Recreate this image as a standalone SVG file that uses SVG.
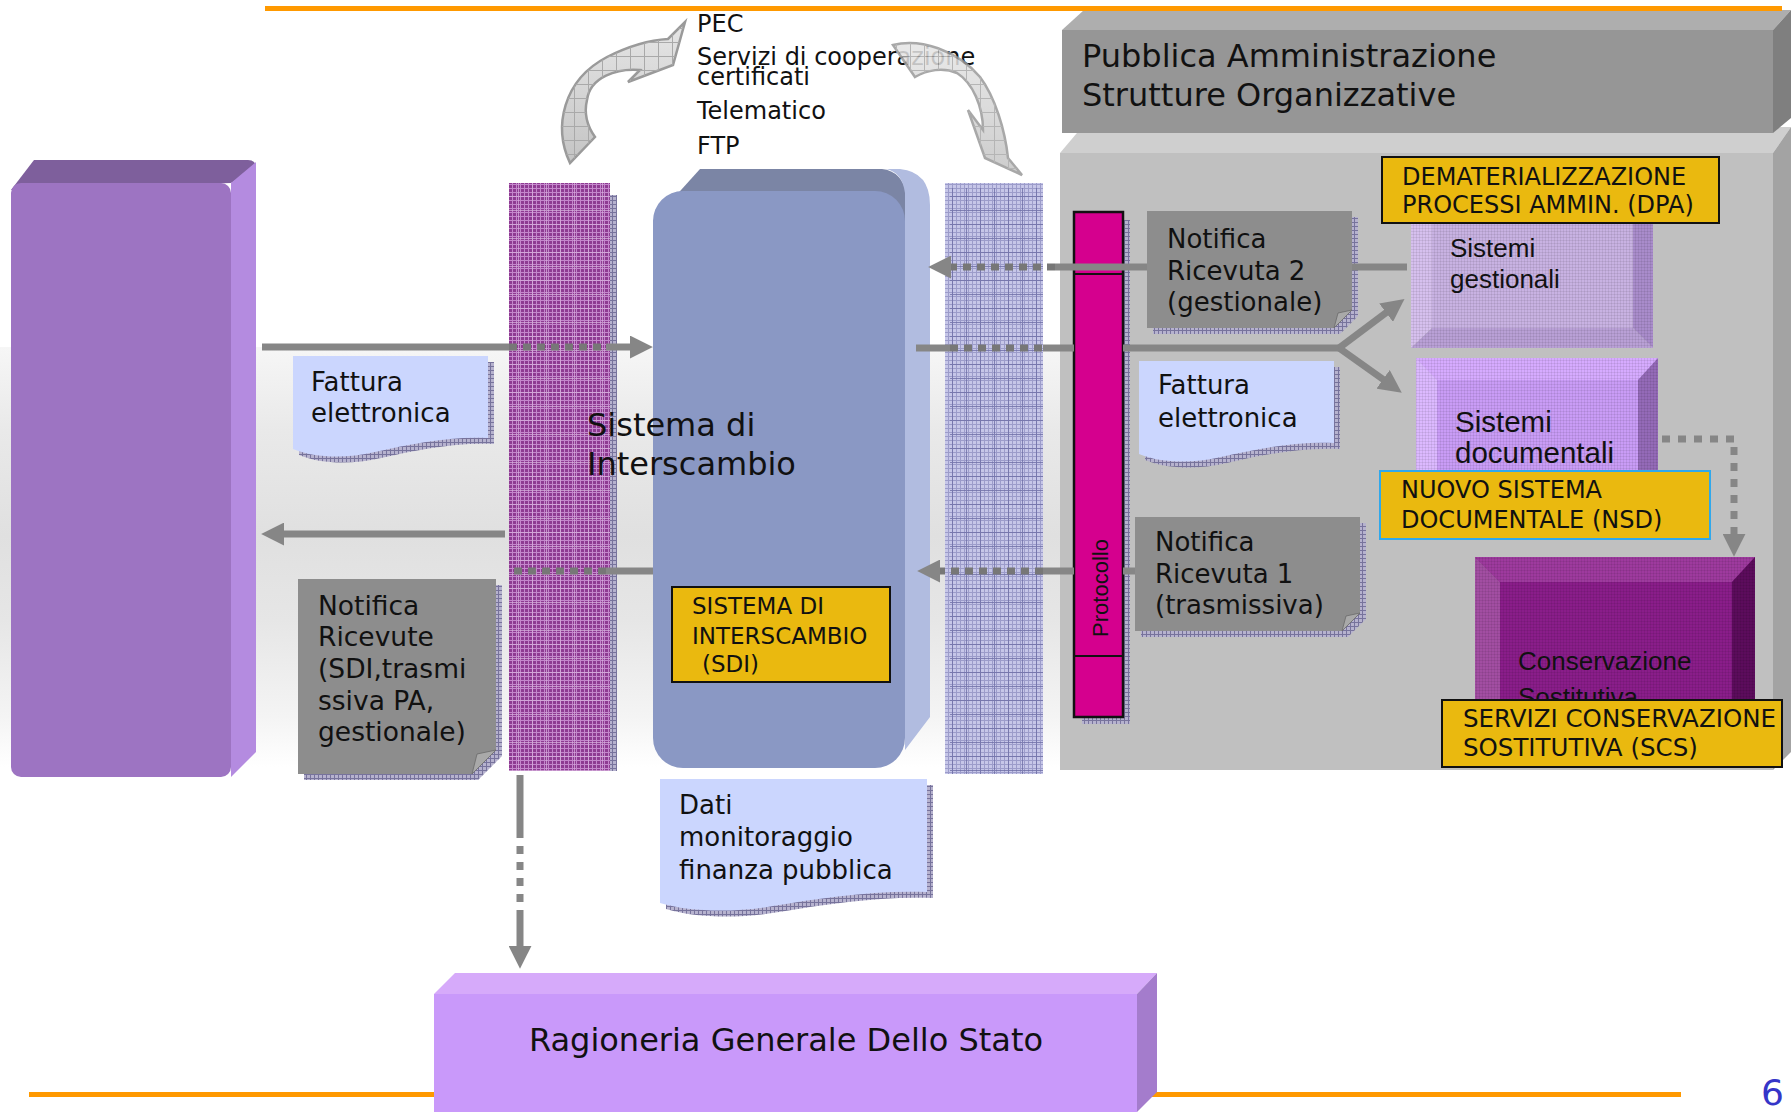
<svg xmlns="http://www.w3.org/2000/svg" width="1791" height="1112" viewBox="0 0 1791 1112">
<defs>
<style>
.t{font-family:"DejaVu Sans",Verdana,sans-serif;fill:#111}
.a{font-family:"Liberation Sans",Arial,sans-serif;fill:#111}
.ln{stroke:#868686;stroke-width:7;fill:none}
.dl{stroke:#777;stroke-width:7;fill:none;stroke-dasharray:8 6}
.yl{fill:#eab90f;stroke:#111;stroke-width:2}
.note{fill:#8d8d8d}
.fold{fill:#a9a9a9;stroke:#6a6a6a;stroke-width:.8}
.doc{fill:#cbd6fe}
.shd{fill:url(#hShadow)}
.orange{fill:#ff9900}
.carrow{fill:url(#arrowGrad);stroke:#9a9a9a;stroke-width:2.5}
</style>
<pattern id="hPurple" width="4" height="4" patternUnits="userSpaceOnUse"><rect width="4" height="4" fill="#8e3b92"/><path d="M0 .5H4M.5 0V4" stroke="#c487cc" stroke-width="1"/></pattern>
<pattern id="gPurple" width="14" height="14" patternUnits="userSpaceOnUse"><path d="M0 .5H14M.5 0V14" stroke="#d9b3de" stroke-width="1" opacity=".7"/></pattern>
<pattern id="hBlue" width="4" height="4" patternUnits="userSpaceOnUse"><rect width="4" height="4" fill="#c6c6e8"/><path d="M0 .5H4M.5 0V4" stroke="#9c9cca" stroke-width="1"/></pattern>
<pattern id="gBlue" width="14" height="14" patternUnits="userSpaceOnUse"><path d="M0 .5H14M.5 0V14" stroke="#6e6ea6" stroke-width="1" opacity=".8"/></pattern>
<pattern id="hShadow" width="4" height="4" patternUnits="userSpaceOnUse"><rect width="4" height="4" fill="#b6b2ce"/><path d="M0 .5H4M.5 0V4" stroke="#77739c" stroke-width="1"/></pattern>
<pattern id="gArrow" width="14" height="14" patternUnits="userSpaceOnUse"><path d="M0 .5H14M.5 0V14" stroke="#a9a9a9" stroke-width="1"/></pattern>
<pattern id="hFine" width="3" height="3" patternUnits="userSpaceOnUse"><path d="M0 .5H3M.5 0V3" stroke="#000" stroke-opacity=".07" stroke-width="1"/></pattern>
<linearGradient id="arrowGrad" x1="0" y1="0" x2="0" y2="1"><stop offset="0" stop-color="#e6e6e6"/><stop offset="1" stop-color="#c4c4c4"/></linearGradient>
<linearGradient id="band" x1="0" y1="0" x2="0" y2="1"><stop offset="0" stop-color="#f6f6f6"/><stop offset=".2" stop-color="#e9e9e9"/><stop offset=".45" stop-color="#e0e0e0"/><stop offset=".65" stop-color="#e6e6e6"/><stop offset=".88" stop-color="#f4f4f4"/><stop offset="1" stop-color="#ffffff"/></linearGradient>
<marker id="ah" viewBox="0 0 10 10" refX="0.5" refY="5" markerWidth="23" markerHeight="23" markerUnits="userSpaceOnUse" orient="auto"><path d="M0,0 L10,5 L0,10 Z" fill="#868686"/></marker>
</defs>

<rect id="band-bg" x="0" y="347" width="1060" height="420" fill="url(#band)"/>

<g id="pa-panel">
<polygon points="1060,153 1082,127 1791,127 1773,153" fill="#cfcfcf"/>
<rect x="1060" y="153" width="713" height="617" fill="#c0c0c0"/>
<polygon points="1773,153 1791,127 1791,752 1773,770" fill="#a3a3a3"/>
</g>
<g id="pa-header">
<polygon points="1062,30 1084,10 1791,10 1773,30" fill="#aeaeae"/>
<rect x="1062" y="30" width="711" height="103" fill="#969696"/>
<polygon points="1773,30 1791,10 1791,118 1773,133" fill="#7f7f7f"/>
<text class="t" font-size="32" x="1082" y="67">Pubblica Amministrazione</text>
<text class="t" font-size="32" x="1082" y="106">Strutture Organizzative</text>
</g>

<g id="orange-lines">
<rect class="orange" x="265" y="6" width="1517" height="5"/>
<rect class="orange" x="29" y="1092" width="1652" height="5"/>
</g>

<g id="left-box">
<path d="M11,190 L34,160 L248,160 Q256,160 256,168 L231,183 Z" fill="#7e5f9c"/>
<path d="M231,183 L256,162 L256,752 L231,777 Z" fill="#b48be0"/>
<rect x="11" y="183" width="220" height="594" rx="10" fill="#9d74c2"/>
</g>

<g id="transport-labels">
<text class="t" font-size="24" x="697" y="32">PEC</text>
<text class="t" font-size="24" x="697" y="65">Servizi di cooperazione</text>
<text class="t" font-size="24" x="697" y="85">certificati</text>
<text class="t" font-size="24" x="697" y="119">Telematico</text>
<text class="t" font-size="24" x="697" y="154">FTP</text>
</g>

<g id="curved-arrow-left">
<path class="carrow" d="M570,163 C553,127 563,80 607,57 C627,47 650,40 668,39 L685,22 L673,65 L628,82 L640,70 C617,68 590,77 587,100 C583,117 590,130 595,137 Z"/>
<path d="M570,163 C553,127 563,80 607,57 C627,47 650,40 668,39 L685,22 L673,65 L628,82 L640,70 C617,68 590,77 587,100 C583,117 590,130 595,137 Z" fill="url(#gArrow)"/>
</g>
<g id="curved-arrow-right" opacity="0.85">
<path class="carrow" d="M893,45 C920,38 957,50 980,77 C995,97 1005,130 1008,158 L1022,175 L985,158 L968,110 L983,130 C983,107 973,83 957,73 C943,67 927,70 915,77 Z"/>
<path d="M893,45 C920,38 957,50 980,77 C995,97 1005,130 1008,158 L1022,175 L985,158 L968,110 L983,130 C983,107 973,83 957,73 C943,67 927,70 915,77 Z" fill="url(#gArrow)"/>
</g>

<g id="sdi-box">
<path d="M653,221 L700,169 L882,169 Q902,171 907,195 L907,221 Z" fill="#7b85a5"/>
<path d="M905,193 Q902,172 886,169 L900,169 Q930,172 930,205 L930,717 L905,750 Z" fill="#b1bce0"/>
<rect x="653" y="191" width="252" height="577" rx="30" fill="#8a98c4"/>
</g>

<g id="left-gateway">
<rect x="509" y="183" width="101" height="588" fill="url(#hPurple)"/>
<rect x="509" y="183" width="101" height="588" fill="url(#gPurple)"/>
<rect x="610" y="195" width="7" height="576" fill="url(#hShadow)"/>
</g>
<g id="right-gateway">
<rect x="945" y="183" width="98" height="591" fill="url(#hBlue)"/>
<rect x="950" y="188" width="93" height="586" fill="url(#gBlue)"/>
</g>

<text id="sdi-title" class="t" font-size="32" x="587" y="436" fill="#1b1b1b">Sistema di</text>
<text id="sdi-title2" class="t" font-size="32" x="587" y="475" fill="#1b1b1b">Interscambio</text>

<g id="sdi-label">
<rect class="yl" x="672" y="587" width="218" height="95"/>
<text class="t" font-size="23" x="692" y="614">SISTEMA DI</text>
<text class="t" font-size="23" x="692" y="644">INTERSCAMBIO</text>
<text class="t" font-size="23" x="702" y="672">(SDI)</text>
</g>

<g id="protocollo">
<rect x="1123" y="220" width="7" height="504" fill="url(#hShadow)"/>
<rect x="1082" y="717" width="48" height="7" fill="url(#hShadow)"/>
<rect x="1074" y="212" width="49" height="505" fill="#d5008e" stroke="#111" stroke-width="2.5"/>
<path d="M1074,274H1123M1074,656H1123" stroke="#111" stroke-width="2"/>
<text class="a" font-size="22" transform="translate(1108,588) rotate(-90)" text-anchor="middle">Protocollo</text>
</g>

<g id="fattura-left">
<path class="shd" transform="translate(6,6)" d="M293,356 H488 V438 C450,436 410,444 375,452 C345,459 315,458 293,449 Z"/>
<path class="doc" d="M293,356 H488 V438 C450,436 410,444 375,452 C345,459 315,458 293,449 Z"/>
<text class="t" font-size="26" x="311" y="391">Fattura</text>
<text class="t" font-size="26" x="311" y="422">elettronica</text>
</g>

<g id="notifica-ricevute">
<path class="shd" transform="translate(6,6)" d="M298,579 H496 V750 L472,774 H298 Z"/>
<path class="note" d="M298,579 H496 V750 L472,774 H298 Z"/>
<polygon class="fold" points="496,750 472,774 477,754"/>
<text class="t" font-size="26.5" x="318" y="615">Notifica</text>
<text class="t" font-size="26.5" x="318" y="646">Ricevute</text>
<text class="t" font-size="26.5" x="318" y="678">(SDI,trasmi</text>
<text class="t" font-size="26.5" x="318" y="710">ssiva PA,</text>
<text class="t" font-size="26.5" x="318" y="741">gestionale)</text>
</g>

<g id="dati-monitoraggio">
<path class="shd" transform="translate(6,6)" d="M660,779 H927 V892 C875,890 820,898 773,906 C733,913 690,912 660,903 Z"/>
<path class="doc" d="M660,779 H927 V892 C875,890 820,898 773,906 C733,913 690,912 660,903 Z"/>
<text class="t" font-size="26" x="679" y="814">Dati</text>
<text class="t" font-size="26" x="679" y="846">monitoraggio</text>
<text class="t" font-size="26" x="679" y="879">finanza pubblica</text>
</g>

<g id="notifica-ricevuta-2">
<path class="shd" transform="translate(6,6)" d="M1147,211 H1352 V310 L1334,328 H1147 Z"/>
<path class="note" d="M1147,211 H1352 V310 L1334,328 H1147 Z"/>
<polygon class="fold" points="1352,310 1334,328 1338,313"/>
<text class="t" font-size="26" x="1167" y="248">Notifica</text>
<text class="t" font-size="26" x="1167" y="280">Ricevuta 2</text>
<text class="t" font-size="26" x="1167" y="311">(gestionale)</text>
</g>

<g id="fattura-right">
<path class="shd" transform="translate(6,6)" d="M1139,361 H1334 V443 C1296,441 1256,449 1221,457 C1191,464 1161,463 1139,454 Z"/>
<path class="doc" d="M1139,361 H1334 V443 C1296,441 1256,449 1221,457 C1191,464 1161,463 1139,454 Z"/>
<text class="t" font-size="26" x="1158" y="394">Fattura</text>
<text class="t" font-size="26" x="1158" y="427">elettronica</text>
</g>

<g id="notifica-ricevuta-1">
<path class="shd" transform="translate(6,6)" d="M1135,517 H1360 V613 L1342,631 H1135 Z"/>
<path class="note" d="M1135,517 H1360 V613 L1342,631 H1135 Z"/>
<polygon class="fold" points="1360,613 1342,631 1346,616"/>
<text class="t" font-size="26" x="1155" y="551">Notifica</text>
<text class="t" font-size="26" x="1155" y="583">Ricevuta 1</text>
<text class="t" font-size="26" x="1155" y="614">(trasmissiva)</text>
</g>

<g id="sistemi-gestionali">
<rect x="1432" y="216" width="201" height="112" fill="#c8b2e2"/>
<polygon points="1411,216 1432,216 1432,328 1411,348" fill="#d6c0ee"/>
<polygon points="1411,348 1432,328 1633,328 1653,348" fill="#b9a0d6"/>
<polygon points="1633,216 1653,216 1653,348 1633,328" fill="#a98ccb"/>
<rect x="1411" y="216" width="242" height="132" fill="url(#hFine)"/>
<text class="a" font-size="26" x="1450" y="257">Sistemi</text>
<text class="a" font-size="26" x="1450" y="288">gestionali</text>
</g>

<g id="dpa-label">
<rect class="yl" x="1382" y="157" width="337" height="66"/>
<text class="t" font-size="24" x="1402" y="185">DEMATERIALIZZAZIONE</text>
<text class="t" font-size="24" x="1402" y="213">PROCESSI AMMIN. (DPA)</text>
</g>

<g id="sistemi-documentali">
<rect x="1416" y="358" width="242" height="116" fill="#c99cf6"/>
<polygon points="1416,358 1658,358 1638,380 1437,380" fill="#d6abff"/>
<polygon points="1416,358 1437,380 1437,474 1416,474" fill="#dcb9ff"/>
<polygon points="1658,358 1638,380 1638,474 1658,474" fill="#946ab8"/>
<rect x="1416" y="358" width="242" height="116" fill="url(#hFine)"/>
<text class="a" font-size="29.5" x="1455" y="432">Sistemi</text>
<text class="a" font-size="29.5" x="1455" y="463">documentali</text>
</g>

<g id="nsd-label">
<rect x="1380" y="471" width="330" height="68" fill="#eab90f" stroke="#2fa8ec" stroke-width="2"/>
<text class="t" font-size="24" x="1401" y="498">NUOVO SISTEMA</text>
<text class="t" font-size="24" x="1401" y="528">DOCUMENTALE (NSD)</text>
</g>

<g id="conservazione">
<rect x="1475" y="557" width="280" height="150" fill="#8a1d8a"/>
<polygon points="1475,557 1755,557 1732,582 1500,582" fill="#9e3a9e"/>
<polygon points="1475,557 1500,582 1500,707 1475,707" fill="#a24ea2"/>
<polygon points="1755,557 1732,582 1732,707 1755,707" fill="#5c0c5c"/>
<rect x="1475" y="557" width="280" height="150" fill="url(#hFine)"/>
<text class="a" font-size="26" x="1518" y="670" fill="#1a0a1a">Conservazione</text>
<text class="a" font-size="26" x="1518" y="706" fill="#1a0a1a">Sostitutiva</text>
</g>

<g id="scs-label">
<rect class="yl" x="1442" y="700" width="340" height="67"/>
<text class="t" font-size="24.5" x="1463" y="727">SERVIZI CONSERVAZIONE</text>
<text class="t" font-size="24.5" x="1463" y="756">SOSTITUTIVA (SCS)</text>
</g>

<g id="ragioneria">
<polygon points="434,994 455,973 1157,973 1137,994" fill="#d6aafa"/>
<polygon points="1137,994 1157,973 1157,1092 1137,1112" fill="#a47ccc"/>
<rect x="434" y="994" width="703" height="118" fill="#c999fa"/>
<text class="t" font-size="32" x="786" y="1051" text-anchor="middle">Ragioneria Generale Dello Stato</text>
</g>

<g id="connectors">
<path class="ln" d="M262,347 H509"/>
<path class="dl" d="M509,347 H606"/>
<path class="ln" d="M606,347 H631" marker-end="url(#ah)"/>
<path class="ln" d="M505,534 H283" marker-end="url(#ah)"/>
<path class="ln" d="M653,571 H606"/>
<path class="dl" d="M606,571 H513"/>
<path class="ln" d="M520,775 V838"/>
<path class="ln" d="M520,846 V902" stroke-dasharray="8 8"/>
<path class="ln" d="M520,910 V947" marker-end="url(#ah)"/>
<path class="ln" d="M1407,267 H1352"/>
<path class="ln" d="M1147,267 H1055"/>
<path class="dl" d="M1055,267 H950" marker-end="url(#ah)"/>
<path class="ln" d="M916,348 H950"/>
<path class="dl" d="M950,348 H1043"/>
<path class="ln" d="M1043,348 H1074"/>
<path class="ln" d="M1123,348 H1339"/>
<path class="ln" d="M1339,348 L1387,312" marker-end="url(#ah)"/>
<path class="ln" d="M1339,348 L1384,380" marker-end="url(#ah)"/>
<path class="ln" d="M1135,571 H1123"/>
<path class="ln" d="M1074,571 H1043"/>
<path class="dl" d="M1043,571 H939" marker-end="url(#ah)"/>
<path class="ln" d="M1662,439 H1734 V535" stroke-dasharray="8 8" stroke-width="8" marker-end="url(#ah)"/>
</g>

<text id="page-number" x="1761" y="1105" font-family="DejaVu Sans, sans-serif" font-size="36" fill="#3535c8">6</text>
</svg>
